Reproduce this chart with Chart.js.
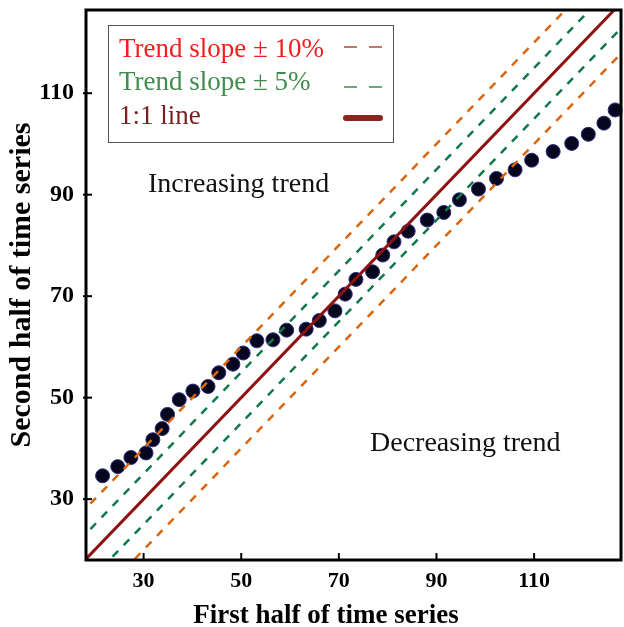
<!DOCTYPE html>
<html>
<head>
<meta charset="utf-8">
<script src="https://cdn.jsdelivr.net/npm/chart.js@4.4.1/dist/chart.umd.min.js"></script>
<style>
  html, body { margin: 0; padding: 0; background: #fff; }
</style>
</head>
<body>
<canvas id="trendChart" width="624" height="627"></canvas>
<script>
// values
const firstHalf = [21.6, 24.7, 27.4, 30.5, 31.9, 33.8, 34.9, 37.3, 40.1, 43.2, 45.4, 48.3, 50.4, 53.2, 56.5, 59.3, 63.3, 66.0, 69.2, 71.3, 73.5, 76.9, 79.0, 81.3, 84.2, 88.1, 91.5, 94.7, 98.6, 102.3, 106.1, 109.5, 113.9, 117.7, 121.1, 124.3, 126.6];
const secondHalf = [34.6, 36.4, 38.2, 39.1, 41.7, 43.9, 46.7, 49.6, 51.3, 52.2, 54.9, 56.6, 58.8, 61.2, 61.4, 63.3, 63.5, 65.2, 67.1, 70.4, 73.3, 74.8, 78.1, 80.7, 82.8, 85.0, 86.5, 89.0, 91.1, 93.2, 94.9, 96.8, 98.5, 100.1, 101.9, 104.1, 106.7];
const xTickValues = [30, 50, 70, 90, 110];
const yTickValues = [30, 50, 70, 90, 110];
const xRange = [18.2, 127.8];
const yRange = [18, 126.4];
const bandOffsets10 = [10, -10];
const bandOffsets5 = [5, -5];
const legendLabels = ['Trend slope \u00b1 10%', 'Trend slope \u00b1 5%', '1:1 line'];
const regionLabels = ['Increasing trend', 'Decreasing trend'];

const serif = '"Liberation Serif", "Times New Roman", serif';
const orange = '#d9650f';
const green = '#10784a';
const maroon = '#8e1212';

// straight line y = x + offset across the whole plot (clipped by the chart area)
function offsetLine(offset) {
  return [xRange[0] - 15, xRange[1] + 15].map(x => ({x: x, y: x + offset}));
}

const lineDatasets = [];
bandOffsets10.forEach(o => lineDatasets.push({
  data: offsetLine(o), showLine: true, borderColor: orange, borderWidth: 2.5,
  borderDash: [8, 8], pointRadius: 0
}));
bandOffsets5.forEach(o => lineDatasets.push({
  data: offsetLine(o), showLine: true, borderColor: green, borderWidth: 2.5,
  borderDash: [8, 8], pointRadius: 0
}));
lineDatasets.push({
  data: offsetLine(0), showLine: true, borderColor: maroon, borderWidth: 3, pointRadius: 0
});

// no extra room for edge labels, the plot box is fixed
function noEdgePadding(scale) {
  scale.paddingTop = 0;
  scale.paddingBottom = 0;
  scale.paddingLeft = 0;
  scale.paddingRight = 0;
}

const framePlugin = {
  id: 'frame',
  afterDraw(chart) {
    const {ctx, chartArea: a, scales} = chart;
    ctx.save();
    ctx.strokeStyle = '#000';
    ctx.lineWidth = 3;
    ctx.strokeRect(a.left, a.top, a.right - a.left, a.bottom - a.top);
    ctx.lineWidth = 2;
    xTickValues.forEach(v => {
      const px = scales.x.getPixelForValue(v);
      ctx.beginPath(); ctx.moveTo(px, a.bottom); ctx.lineTo(px, a.bottom - 7); ctx.stroke();
    });
    yTickValues.forEach(v => {
      const py = scales.y.getPixelForValue(v);
      ctx.beginPath(); ctx.moveTo(a.left - 3, py); ctx.lineTo(a.left + 6, py); ctx.stroke();
    });

    // legend box
    ctx.fillStyle = '#fff';
    ctx.fillRect(108, 25, 285, 117);
    ctx.strokeStyle = '#555';
    ctx.lineWidth = 1;
    ctx.strokeRect(108.5, 25.5, 285, 117);
    ctx.font = '27px ' + serif;
    ctx.textBaseline = 'alphabetic';
    ctx.textAlign = 'left';
    const textColors = ['#f21c1c', '#3f8c4c', '#7a1f1f'];
    const baselines = [57, 90, 124];
    legendLabels.forEach((t, i) => {
      ctx.fillStyle = textColors[i];
      ctx.fillText(t, 119, baselines[i]);
    });
    ctx.lineWidth = 1.5;
    ctx.strokeStyle = '#b04a3c';
    ctx.setLineDash([13, 12]);
    ctx.beginPath(); ctx.moveTo(344, 47); ctx.lineTo(383, 47); ctx.stroke();
    ctx.strokeStyle = '#3f8c4c';
    ctx.beginPath(); ctx.moveTo(344, 87); ctx.lineTo(383, 87); ctx.stroke();
    ctx.setLineDash([]);
    ctx.strokeStyle = '#8b2520';
    ctx.lineWidth = 6;
    ctx.lineCap = 'round';
    ctx.beginPath(); ctx.moveTo(346, 118); ctx.lineTo(380, 118); ctx.stroke();

    // region notes
    ctx.fillStyle = '#111';
    ctx.font = '28px ' + serif;
    ctx.fillText(regionLabels[0], 148, 192);
    ctx.fillText(regionLabels[1], 370, 451);

    // x axis title, sits left of centre in the original
    ctx.fillStyle = '#000';
    ctx.font = 'bold 27px ' + serif;
    ctx.textAlign = 'center';
    ctx.fillText('First half of time series', 326, 623);
    ctx.restore();
  }
};

const ctx = document.getElementById('trendChart');
new Chart(ctx, {
  type: 'scatter',
  data: {
    datasets: [
      ...lineDatasets,
      {
        data: firstHalf.map((x, i) => ({x: x, y: secondHalf[i]})),
        pointRadius: 7,
        backgroundColor: '#06061f',
        borderColor: '#2c2c80',
        borderWidth: 1,
        clip: false
      }
    ]
  },
  options: {
    responsive: false,
    animation: false,
    layout: { autoPadding: false, padding: { top: 10, right: 3 } },
    plugins: {
      legend: { display: false },
      tooltip: { enabled: false }
    },
    scales: {
      x: {
        min: xRange[0],
        max: xRange[1],
        afterBuildTicks: scale => { scale.ticks = xTickValues.map(v => ({value: v})); },
        afterFit: scale => { scale.height = 67; noEdgePadding(scale); },
        grid: { display: false, drawTicks: false },
        border: { display: false },
        ticks: { padding: 8, color: '#000', font: { family: serif, size: 22, weight: 'bold' } }
      },
      y: {
        min: yRange[0],
        max: yRange[1],
        afterBuildTicks: scale => { scale.ticks = yTickValues.map(v => ({value: v})); },
        afterFit: scale => { scale.width = 86; noEdgePadding(scale); },
        grid: { display: false, drawTicks: false },
        border: { display: false },
        ticks: { padding: 12, color: '#000', font: { family: serif, size: 24, weight: 'bold' } },
        title: {
          display: true,
          text: 'Second half of time series',
          color: '#000',
          padding: { top: 4, bottom: 0 },
          font: { family: serif, size: 30, weight: 'bold' }
        }
      }
    }
  },
  plugins: [framePlugin]
});
</script>
</body>
</html>
